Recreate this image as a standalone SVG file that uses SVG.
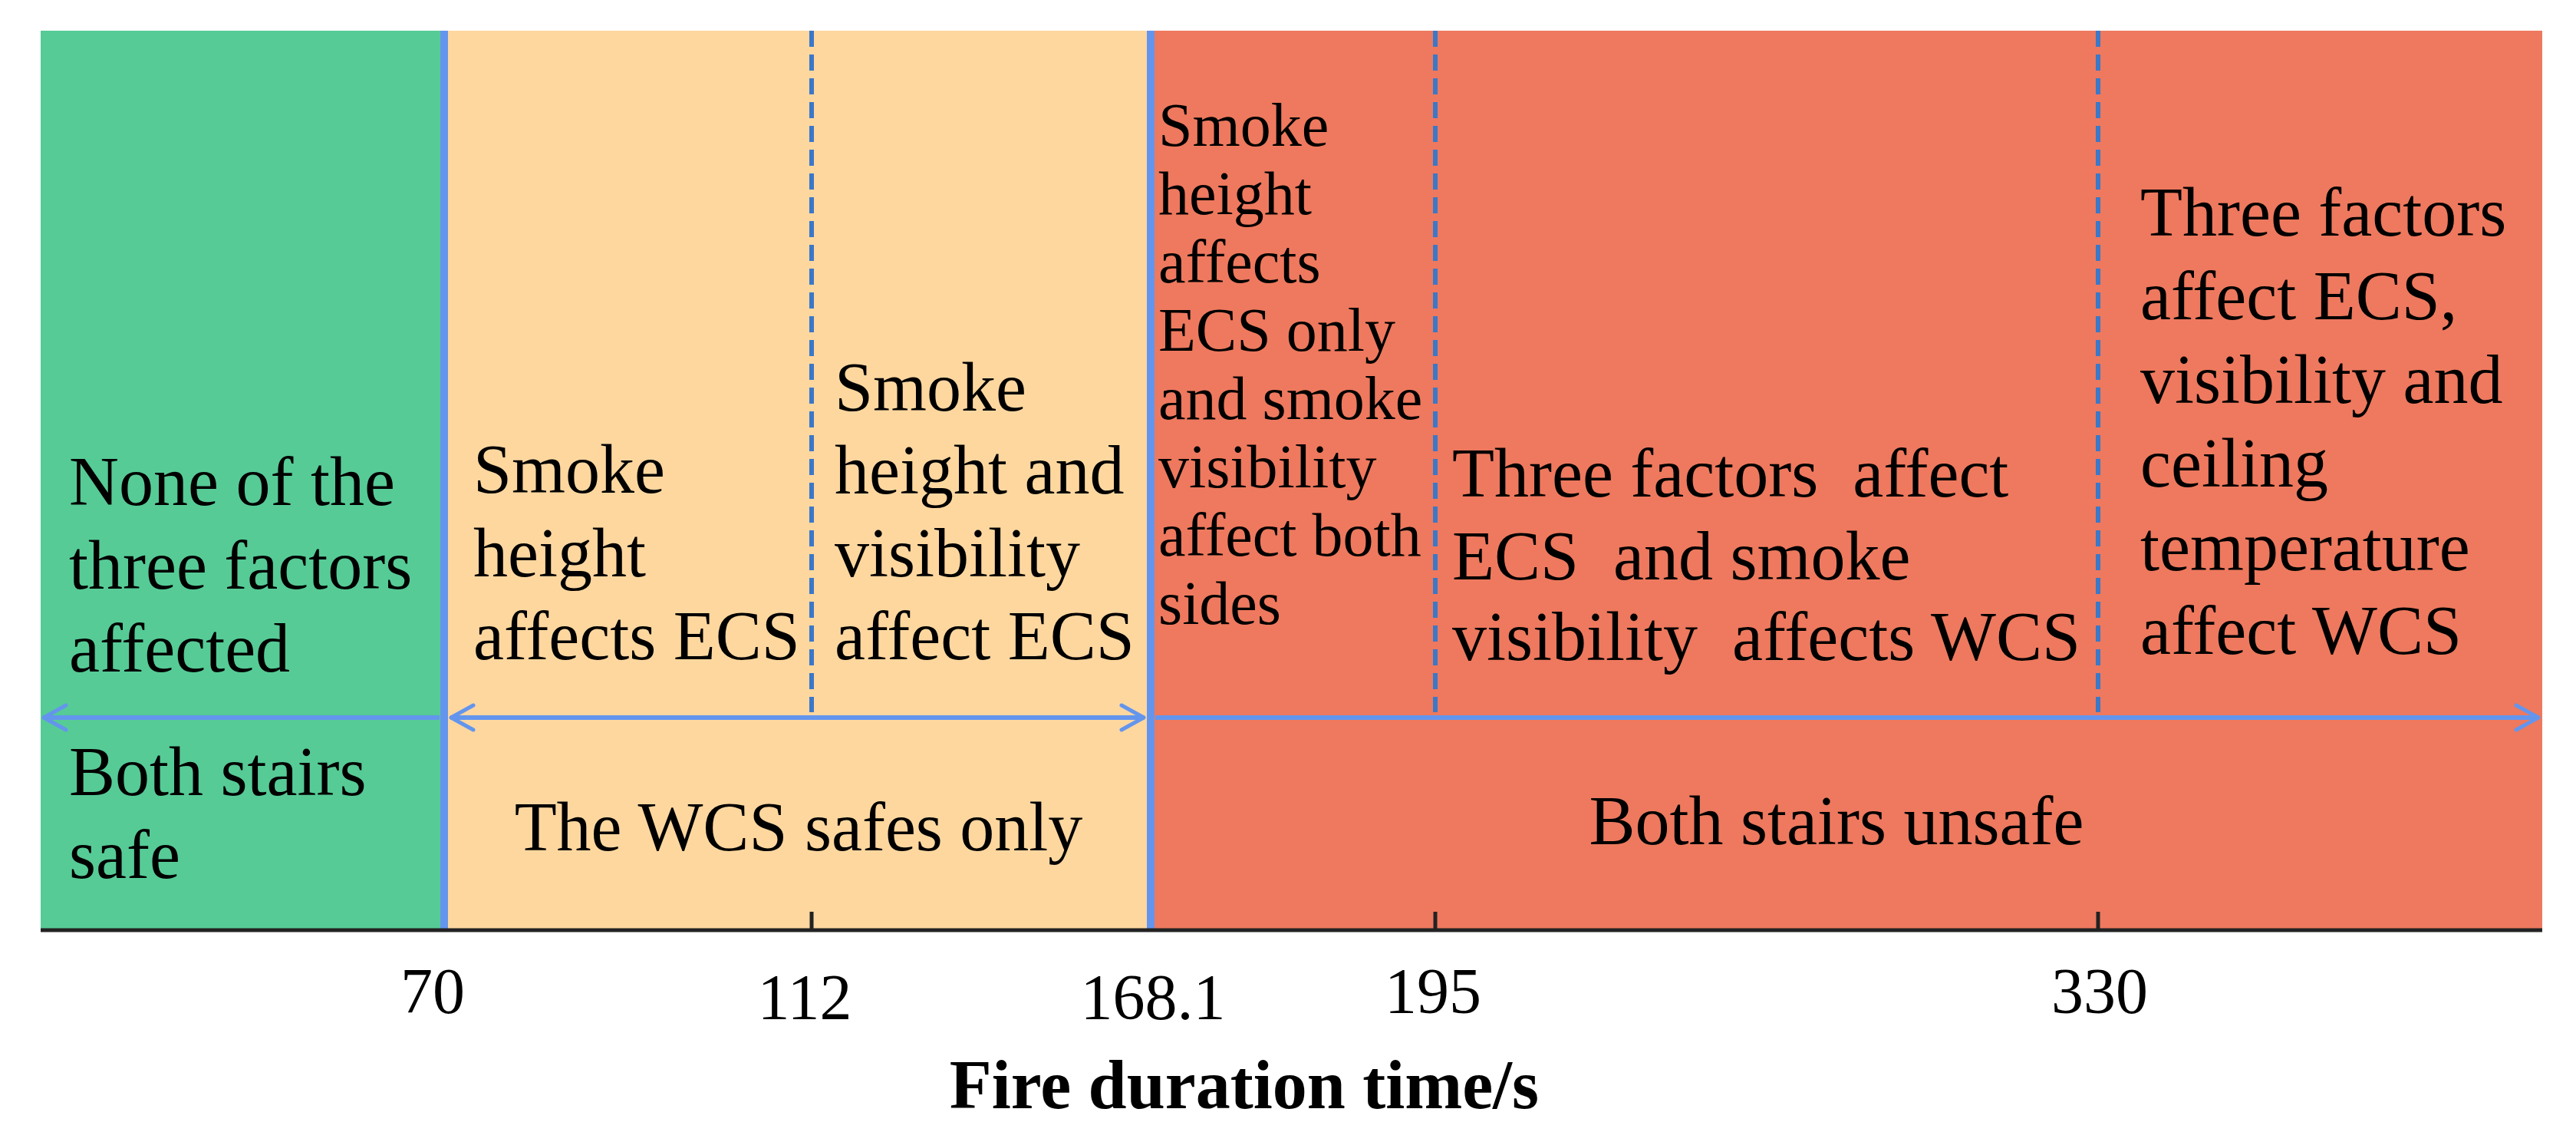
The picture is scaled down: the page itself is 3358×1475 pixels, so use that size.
<svg xmlns="http://www.w3.org/2000/svg" width="3358" height="1475" viewBox="0 0 3358 1475">
<style>
.t{font-family:"Liberation Serif","Times New Roman",serif;font-size:90px;fill:#000;}
.s{font-size:80px;}
.pre{white-space:pre;}
.tick{font-family:"Liberation Serif","Times New Roman",serif;font-size:84px;fill:#000;text-anchor:middle;}
.title{font-family:"Liberation Serif","Times New Roman",serif;font-size:90px;font-weight:bold;fill:#000;text-anchor:middle;}
.solid{stroke:#6495ED;stroke-width:10;fill:none;}
.dash{stroke:#3B78C8;stroke-width:6;stroke-dasharray:21 10;fill:none;}
.arrow{stroke:#6495ED;stroke-width:6;fill:none;}
.axis{stroke:#222;stroke-width:5;fill:none;}
</style>
<defs>
<marker id="ah" markerUnits="userSpaceOnUse" viewBox="-36 -22 40 44" refX="0" refY="0" markerWidth="40" markerHeight="44" orient="auto-start-reverse">
<path d="M-30,-16 L-1,0 L-30,16" fill="none" stroke="#6495ED" stroke-width="5" stroke-linejoin="round" stroke-linecap="round"/>
</marker>
</defs>
<rect width="3358" height="1475" fill="#fff"/>
<g id="phase-green">
<rect x="53" y="40" width="526" height="1172" fill="#56CB96"/>
<text class="t" x="90"><tspan x="90" y="658">None of the</tspan><tspan x="90" y="767">three factors</tspan><tspan x="90" y="875">affected</tspan></text>
<text class="t" x="90"><tspan x="90" y="1036">Both stairs</tspan><tspan x="90" y="1144">safe</tspan></text>
</g>
<g id="phase-peach">
<rect x="579" y="40" width="921" height="1172" fill="#FED79F"/>
<text class="t"><tspan x="617" y="642">Smoke</tspan><tspan x="617" y="751">height</tspan><tspan x="617" y="859">affects ECS</tspan></text>
<text class="t"><tspan x="1088" y="535">Smoke</tspan><tspan x="1088" y="643">height and</tspan><tspan x="1088" y="751">visibility</tspan><tspan x="1088" y="859">affect ECS</tspan></text>
<text class="t" x="1041" y="1108" text-anchor="middle">The WCS safes only</text>
</g>
<g id="phase-red">
<rect x="1500" y="40" width="1814" height="1172" fill="#EE795E"/>
<text class="t s"><tspan x="1510" y="190">Smoke</tspan><tspan x="1510" y="279">height</tspan><tspan x="1510" y="368">affects</tspan><tspan x="1510" y="457">ECS only</tspan><tspan x="1510" y="546">and smoke</tspan><tspan x="1510" y="635">visibility</tspan><tspan x="1510" y="724">affect both</tspan><tspan x="1510" y="813">sides</tspan></text>
<text class="t pre" xml:space="preserve"><tspan x="1893" y="647">Three factors  affect</tspan><tspan x="1893" y="755">ECS  and smoke</tspan><tspan x="1893" y="860">visibility  affects WCS</tspan></text>
<text class="t"><tspan x="2790" y="307">Three factors</tspan><tspan x="2790" y="416">affect ECS,</tspan><tspan x="2790" y="525">visibility and</tspan><tspan x="2790" y="634">ceiling</tspan><tspan x="2790" y="743">temperature</tspan><tspan x="2790" y="852">affect WCS</tspan></text>
<text class="t" x="2394" y="1100" text-anchor="middle">Both stairs unsafe</text>
</g>
<g id="boundaries">
<line class="solid" x1="579" y1="40" x2="579" y2="1212"/>
<line class="solid" x1="1500" y1="40" x2="1500" y2="1212"/>
<line class="dash" x1="1058" y1="40" x2="1058" y2="928"/>
<line class="dash" x1="1871" y1="40" x2="1871" y2="928"/>
<line class="dash" x1="2735" y1="40" x2="2735" y2="928"/>
</g>
<g id="connectors">
<line class="arrow" x1="573" y1="935" x2="56" y2="935" marker-end="url(#ah)"/>
<line class="arrow" x1="587" y1="935" x2="1492" y2="935" marker-start="url(#ah)" marker-end="url(#ah)"/>
<line class="arrow" x1="1506" y1="935" x2="3310" y2="935" marker-end="url(#ah)"/>
</g>
<g id="axis">
<line class="axis" x1="53" y1="1212" x2="3314" y2="1212"/>
<line class="axis" stroke-width="4" x1="1058" y1="1188" x2="1058" y2="1212"/>
<line class="axis" stroke-width="4" x1="1871" y1="1188" x2="1871" y2="1212"/>
<line class="axis" stroke-width="4" x1="2735" y1="1188" x2="2735" y2="1212"/>
<text class="tick" x="564" y="1320">70</text>
<text class="tick" x="1049" y="1328">112</text>
<text class="tick" x="1503" y="1328">168.1</text>
<text class="tick" x="1868" y="1320">195</text>
<text class="tick" x="2737" y="1320">330</text>
<text class="title" x="1622" y="1444">Fire duration time/s</text>
</g>
</svg>
